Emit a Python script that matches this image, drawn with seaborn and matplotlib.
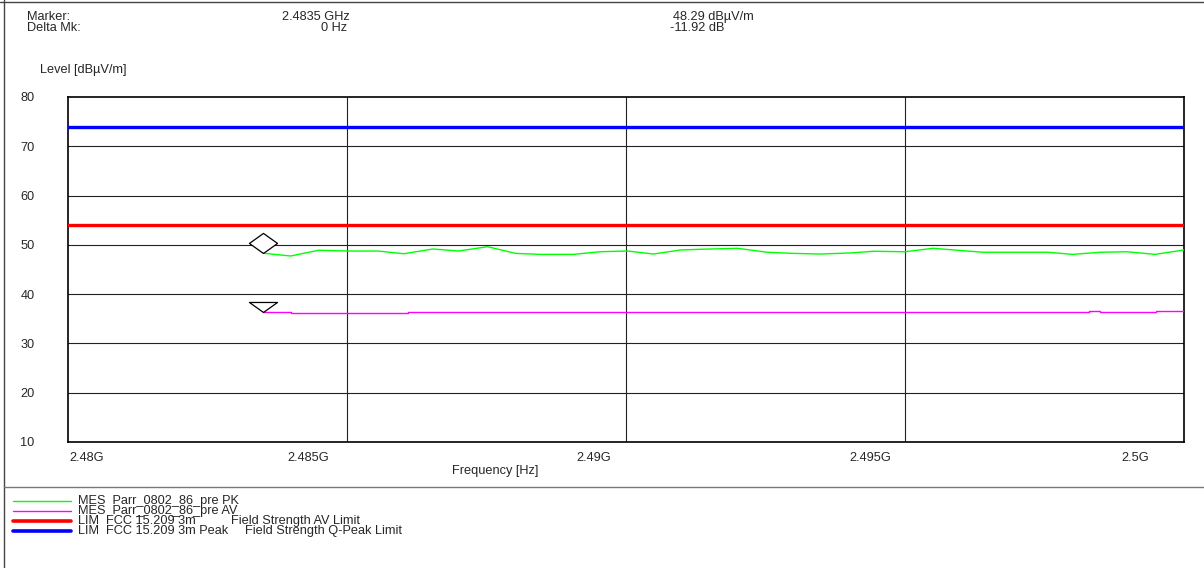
import numpy as np
import pandas as pd
import matplotlib
matplotlib.use("Agg")
import matplotlib.pyplot as plt
from matplotlib.lines import Line2D
import seaborn as sns

# --- data ---
pk_freq = [2.48351, 2.48399, 2.48449, 2.48501, 2.48555, 2.48602, 2.48654, 2.48700,
           2.48752, 2.48802, 2.48847, 2.48906, 2.48954, 2.49003, 2.49049, 2.49098,
           2.49133, 2.49200, 2.49253, 2.49300, 2.49348, 2.49402, 2.49443, 2.49500,
           2.49550, 2.49612, 2.49640, 2.49755, 2.49801, 2.49850, 2.49898, 2.49948,
           2.50000]
pk_level = [48.29, 47.74, 48.90, 48.75, 48.75, 48.20, 49.16, 48.75,
            49.63, 48.27, 48.07, 48.07, 48.61, 48.75, 48.14, 48.96,
            49.10, 49.30, 48.50, 48.27, 48.14, 48.35, 48.70, 48.60,
            49.30, 48.75, 48.50, 48.50, 48.07, 48.50, 48.60, 48.07,
            48.96]

av_freq = [2.4835, 2.4840, 2.4861, 2.4983, 2.4985, 2.4995, 2.5000]
av_level = [36.37, 36.25, 36.37, 36.55, 36.37, 36.55, 36.55]

limit_av = 54.0
limit_peak = 74.0

marker_freq = 2.4835
marker_pk = 48.29
marker_av = 36.37

x_tick_labels = ["2.48G", "2.485G", "2.49G", "2.495G", "2.5G"]
x_label_pos = [2.48034, 2.48430, 2.48942, 2.49438, 2.49912]
x_grid = [2.485, 2.49, 2.495]
y_ticks = [10, 20, 30, 40, 50, 60, 70, 80]

legend_entries = [
    ("#00ff00", 1.0, "MES  Parr_0802_86_pre PK", ""),
    ("#ff00ff", 1.0, "MES  Parr_0802_86_pre AV", ""),
    ("#ff0000", 2.6, "LIM  FCC 15.209 3m", "Field Strength AV Limit"),
    ("#0000ff", 2.6, "LIM  FCC 15.209 3m Peak", "Field Strength Q-Peak Limit"),
]

sns.set_style("white")
plt.rcParams["font.family"] = ["Liberation Sans", "DejaVu Sans"]
FS = 9.2

W, H = 1204, 568
fig = plt.figure(figsize=(W / 100, H / 100), dpi=100)
ax = fig.add_axes([68 / W, 1 - 442 / H, (1184 - 68) / W, (442 - 97) / H])

pk = pd.DataFrame({"freq": pk_freq, "level": pk_level})
av = pd.DataFrame({"freq": av_freq, "level": av_level})

# grid
for y in y_ticks[1:-1]:
    ax.axhline(y, color="#222222", lw=0.8, zorder=1)
for x in x_grid:
    ax.axvline(x, color="#222222", lw=0.8, zorder=1)

# limits
ax.axhline(limit_peak, color="#0000ff", lw=2.4, zorder=3)
ax.axhline(limit_av, color="#ff0000", lw=2.4, zorder=3)

# traces
sns.lineplot(data=pk, x="freq", y="level", ax=ax, color="#00ff00", lw=1.0,
             estimator=None, sort=False, zorder=4)
sns.lineplot(data=av, x="freq", y="level", ax=ax, color="#ff00ff", lw=1.0,
             estimator=None, sort=False, drawstyle="steps-post", zorder=4)

# markers (bottom vertex sits on the trace)
diamond = [(0, 0), (1, 0.714), (0, 1.428), (-1, 0.714), (0, 0)]
tri_down = [(0, 0), (1, 0.714), (-1, 0.714), (0, 0)]
ax.plot([marker_freq], [marker_pk], marker=diamond, ms=28.9, mfc="white",
        mec="black", mew=0.9, ls="none", zorder=5)
ax.plot([marker_freq], [marker_av], marker=tri_down, ms=20.2, mfc="white",
        mec="black", mew=0.9, ls="none", zorder=5)

ax.set_xlim(2.48, 2.50)
ax.set_ylim(10, 80)
ax.set_xticks(x_label_pos)
ax.set_xticklabels(x_tick_labels, fontsize=FS)
ax.set_yticks(y_ticks)
ax.set_yticklabels([str(v) for v in y_ticks], fontsize=FS)
ax.tick_params(axis="x", length=0, pad=7)
ax.tick_params(axis="y", length=0, pad=24)
ax.set_xlabel("")
ax.set_ylabel("")
for s in ax.spines.values():
    s.set_color("black")
    s.set_linewidth(1.2)
    s.set_visible(True)

def fx(px):
    return px / W

def fy(py):
    return 1 - py / H

# header
fig.text(fx(27), fy(17), "Marker:", fontsize=FS, va="center", ha="left")
fig.text(fx(27), fy(28), "Delta Mk:", fontsize=FS, va="center", ha="left")
fig.text(fx(350), fy(17), "2.4835 GHz", fontsize=FS, va="center", ha="right")
fig.text(fx(347), fy(28), "0 Hz", fontsize=FS, va="center", ha="right")
fig.text(fx(673), fy(17), "48.29 dB\u00b5V/m", fontsize=FS, va="center", ha="left")
fig.text(fx(670), fy(28), "-11.92 dB", fontsize=FS, va="center", ha="left")
fig.text(fx(40), fy(70), "Level [dB\u00b5V/m]", fontsize=FS, va="center", ha="left")
fig.text(fx(495), fy(471), "Frequency [Hz]", fontsize=FS, va="center", ha="center")

# frame lines
fig.add_artist(Line2D([fx(0), fx(W)], [fy(1.5), fy(1.5)], color="#444444", lw=1.0))
fig.add_artist(Line2D([fx(4), fx(4)], [fy(0), fy(H)], color="#444444", lw=1.0))
fig.add_artist(Line2D([fx(4), fx(W)], [fy(487), fy(487)], color="#777777", lw=1.0))

# legend block
for i, (col, lw, txt, extra) in enumerate(legend_entries):
    yy = fy(501 + i * 10)
    fig.add_artist(Line2D([fx(13), fx(71)], [yy, yy], color=col, lw=lw))
    fig.text(fx(78), yy, txt, fontsize=FS, va="center", ha="left")
    if extra:
        xe = 231 if i == 2 else 245
        fig.text(fx(xe), yy, extra, fontsize=FS, va="center", ha="left")

fig.savefig("out.png", dpi=100)
